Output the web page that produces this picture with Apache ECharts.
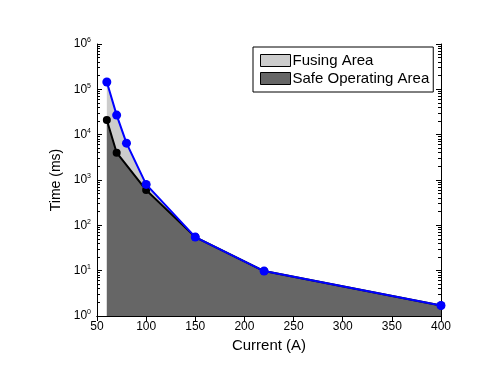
<!DOCTYPE html>
<html><head><meta charset="utf-8">
<script src="https://cdn.jsdelivr.net/npm/echarts@6/dist/echarts.min.js"></script>
<style>html,body{margin:0;padding:0;background:#fff}#c{width:500px;height:385px}</style>
</head><body><div id="c"></div>
<script>
const fusingCurrent = [60, 70, 80, 100, 150, 220, 400];
const fusingTime = [145000, 27000, 6500, 800, 55, 9.8, 1.7];
const safeCurrent = [60, 70, 100, 150, 220, 400];
const safeTime = [21000, 4000, 600, 55, 9.8, 1.7];
const xTicks = [50, 100, 150, 200, 250, 300, 350, 400];
const yDecades = [0, 1, 2, 3, 4, 5];
const minorMultipliers = [2, 3, 4, 5, 6, 7, 8, 9];

// minor tick positions expressed as exponents (log10 space)
const yMinorExp = [];
yDecades.forEach(d => minorMultipliers.forEach(m => yMinorExp.push(d + Math.log10(m))));

const font = 'Liberation Sans, Arial, sans-serif';
const chart = echarts.init(document.getElementById('c'), null, {renderer: 'canvas'});
const pairs = (xs, ys) => xs.map((x, i) => [x, ys[i]]);
const axisCommon = {
  axisLine: {show: true, lineStyle: {color: '#000', width: 1}},
  axisTick: {show: true, inside: true, length: 5, lineStyle: {color: '#000'}},
  splitLine: {show: false}
};
const minorAxis = (pos) => ({
  type: 'value', min: 0, max: 6, position: pos,
  axisLine: {show: false}, splitLine: {show: false}, axisLabel: {show: false},
  axisTick: {show: true, inside: true, length: 3, customValues: yMinorExp, lineStyle: {color: '#000'}}
});
chart.setOption({
  animation: false,
  backgroundColor: '#fff',
  textStyle: {fontFamily: font},
  grid: {left: 97, right: 59, top: 44, bottom: 69},
  legend: {
    left: 253, top: 47, orient: 'vertical', itemGap: 3, itemWidth: 30, itemHeight: 12,
    backgroundColor: '#fff', borderColor: '#000', borderWidth: 1, borderRadius: 0, padding: [6, 4, 6, 7],
    icon: 'rect',
    textStyle: {fontFamily: font, fontSize: 15, color: '#000', padding: [0, 0, 0, -3]},
    data: [
      {name: 'Fusing Area', itemStyle: {color: '#cccccc', borderColor: '#000', borderWidth: 1}},
      {name: 'Safe Operating Area', itemStyle: {color: '#666666', borderColor: '#000', borderWidth: 1}}
    ]
  },
  xAxis: [
    Object.assign({type: 'value', min: 50, max: 400, interval: 50, position: 'bottom',
      name: 'Current (A)', nameLocation: 'middle', nameGap: 21,
      nameTextStyle: {fontSize: 15, color: '#000', fontFamily: font},
      axisLabel: {color: '#000', fontSize: 12, margin: 5, fontFamily: font,
        formatter: v => xTicks.includes(v) ? String(v) : ''}}, axisCommon),
    Object.assign({type: 'value', min: 50, max: 400, interval: 50, position: 'top',
      axisLabel: {show: false}}, axisCommon)
  ],
  yAxis: [
    Object.assign({type: 'log', logBase: 10, min: 1, max: 1e6, position: 'left',
      name: 'Time (ms)', nameLocation: 'middle', nameGap: 34, nameRotate: 90,
      nameTextStyle: {fontSize: 14, color: '#000', fontFamily: font},
      axisLabel: {color: '#000', fontSize: 12, margin: 6, fontFamily: font,
        formatter: v => '10{s|' + Math.round(Math.log10(v)) + '}',
        rich: {s: {fontSize: 7, verticalAlign: 'top', padding: [0, 0, 7, 0], fontFamily: font, color: '#000'}}}}, axisCommon),
    Object.assign({type: 'log', logBase: 10, min: 1, max: 1e6, position: 'right',
      axisLabel: {show: false}}, axisCommon),
    minorAxis('left'),
    minorAxis('right')
  ],
  series: [
    {name: 'Fusing Area', type: 'line', data: pairs(fusingCurrent, fusingTime),
      symbol: 'none', z: 1, lineStyle: {width: 0, color: '#cccccc'}, itemStyle: {color: '#cccccc'},
      areaStyle: {color: '#cccccc', opacity: 1, origin: 'start'}},
    {name: 'Safe Operating Area', type: 'line', data: pairs(safeCurrent, safeTime),
      symbol: 'circle', symbolSize: 8, z: 2,
      itemStyle: {color: '#000'}, lineStyle: {color: '#000', width: 2},
      areaStyle: {color: '#666666', opacity: 1, origin: 'start'}},
    {name: 'Fusing Line', type: 'line', data: pairs(fusingCurrent, fusingTime),
      symbol: 'circle', symbolSize: 9, z: 3,
      itemStyle: {color: '#0000ff'}, lineStyle: {color: '#0000ff', width: 2}}
  ]
});
</script></body></html>
